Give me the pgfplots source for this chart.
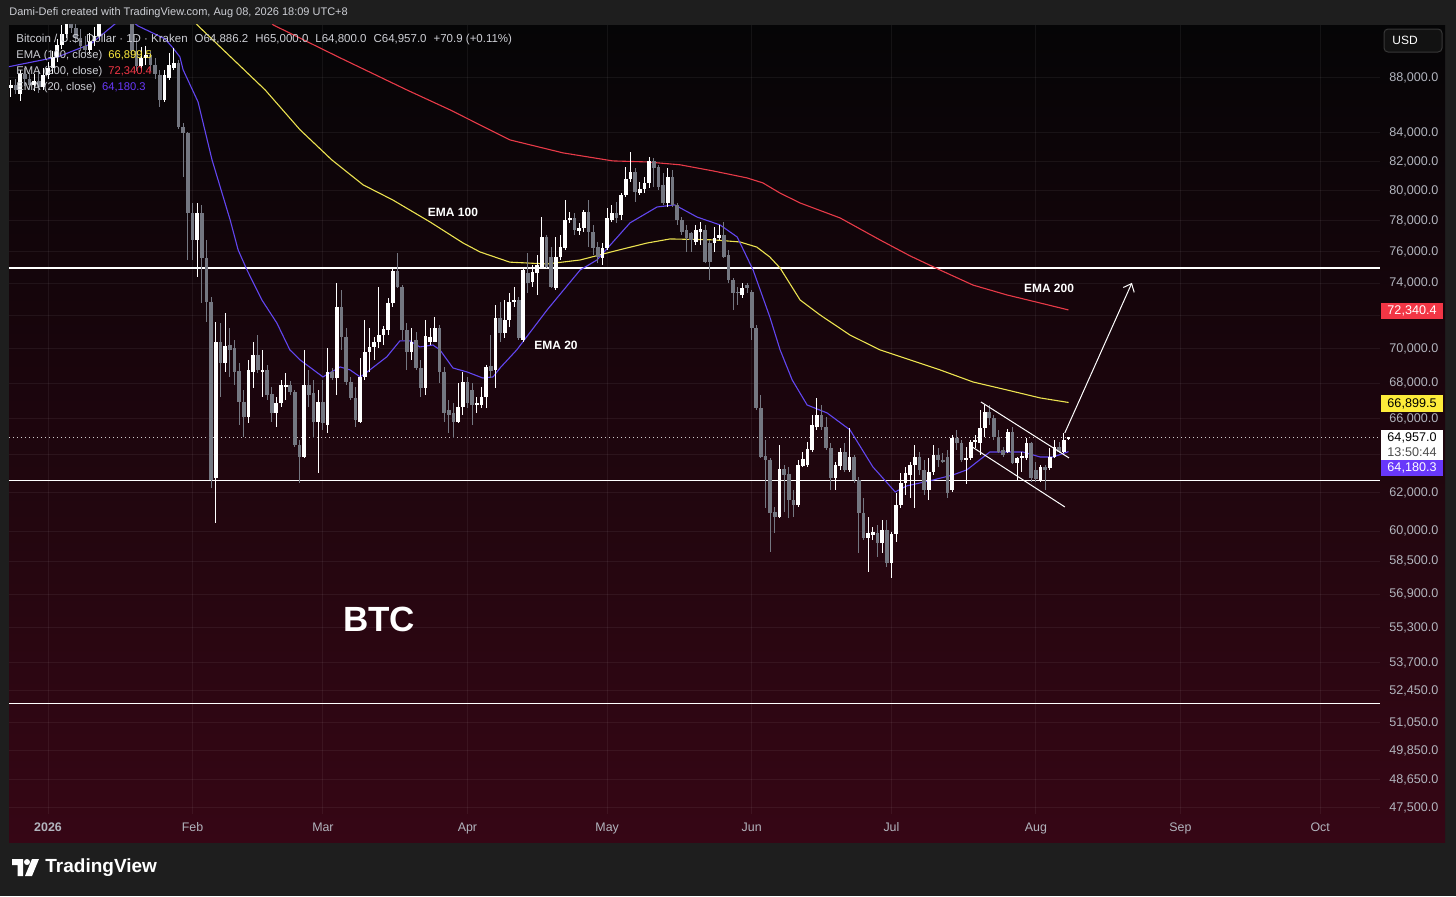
\documentclass[border=0pt]{standalone}
\usepackage{fontspec}
\setmainfont{Liberation Sans}
\usepackage{pgfplots}
\pgfplotsset{compat=1.18}
\usepackage{pgfplotstable}
\usetikzlibrary{arrows.meta}

\definecolor{frame}{RGB}{30,30,30}
\definecolor{bgtop}{RGB}{5,5,6}
\definecolor{bgmid}{RGB}{24,4,10}
\definecolor{bgbot}{RGB}{54,6,21}
\definecolor{upc}{RGB}{255,255,255}
\definecolor{dnc}{RGB}{116,119,129}
\definecolor{ema20}{RGB}{98,70,240}
\definecolor{ema100}{RGB}{236,226,80}
\definecolor{ema200}{RGB}{232,58,72}
\definecolor{box20}{RGB}{104,56,250}
\definecolor{box100}{RGB}{253,236,58}
\definecolor{box200}{RGB}{242,54,69}
\definecolor{lbl}{RGB}{205,207,213}
\definecolor{axlbl}{RGB}{178,181,190}

% daily candles: day index (0 = 1 Jan 2026), open, high, low, close
\pgfplotstableread{
d o h l c
-8 87260 87850 86600 87480
-6 86800 88600 86300 88300
-3 87500 88300 87000 87800
-1 87300 88700 87100 88200
0 88200 89200 87900 88700
1 88700 90000 88300 89600
2 89600 90900 89200 90500
3 90500 92000 90200 91300
4 91300 93000 91000 92300
9 90100 91400 89800 90800
10 90800 91900 90400 91200
11 91200 93300 91000 92800
12 92800 94800 92300 94200
13 94200 96200 93800 95500
15 95000 96700 94600 95800
20 88900 90300 88500 89500
21 89500 90400 89000 89700
25 86380 88600 86230 88220
26 88000 89900 87850 88970
27 88740 90260 88600 89120
32 76750 79180 74390 78520
36 62770 71610 60430 70410
38 69170 72160 68650 70170
43 66090 69350 65760 68770
44 68650 70410 67730 69640
46 68650 69940 67210 68770
49 66310 67210 65530 66880
50 66880 68190 66650 67900
51 67790 68590 67050 67900
55 63890 69940 63840 67900
58 65810 67610 63040 66930
60 65640 70060 65200 68650
62 68300 74010 67330 72520
67 65810 69470 65760 68360
68 68360 71730 68190 69820
69 69820 71250 68650 70110
70 70110 70710 69350 70410
71 70410 73760 70060 70830
72 70830 71370 70230 71190
73 71130 73080 70830 72770
74 72770 74950 72520 74760
78 69820 71250 69350 70410
81 67730 71730 67330 70770
82 70410 71250 70230 70710
83 70410 71910 70410 71250
88 65810 68020 65760 66650
89 66650 68650 66200 68070
92 66760 67210 66310 66880
93 66760 67790 66590 67210
94 67210 69060 66590 68940
96 68770 72650 67730 71850
98 70950 72950 70650 71730
99 71730 73390 71310 72830
100 72830 73760 72520 72950
102 70530 74950 70410 74830
104 74070 75140 73760 74700
105 74640 75780 73260 75140
106 75010 78250 74950 76940
109 73700 76940 73570 75650
110 75650 77070 75460 76290
111 76230 79380 76100 78050
112 78050 78580 77860 78190
114 77330 77860 77070 77530
115 77530 78720 77270 78580
119 75590 76550 75140 76230
120 76230 78850 76100 78190
121 78050 79050 77920 78520
123 78390 79850 78050 79720
124 79720 81630 79590 80800
125 80800 82670 80600 81280
127 79860 80600 79720 80120
128 80120 80940 79850 80530
129 80530 82320 80190 82040
133 79180 81560 78920 80940
139 76620 77730 76420 77400
140 77270 77920 76420 77460
143 76550 77590 75970 76880
144 76880 77730 76750 77070
149 73260 74010 73080 73700
157 60740 64550 60690 63250
161 61360 63730 61250 63460
162 63410 64160 63360 63790
163 63460 64710 63360 64330
164 64270 66200 64160 65650
165 65530 67160 65370 66200
169 62770 63630 62140 63460
170 63410 64380 63200 64160
172 63200 65480 63090 63890
176 59670 60740 57980 59920
177 59820 60230 59570 59970
179 59420 60580 58920 60070
181 58420 59970 57690 59870
182 59870 61980 59470 61360
183 61360 63040 61200 62510
184 62510 63360 61880 63040
185 62930 63630 61720 63460
186 63460 64550 61200 63890
189 62140 63840 61620 63090
190 63090 64550 62930 64000
194 62140 65090 62030 64930
197 63730 64440 62450 63840
198 63840 64820 63730 64710
199 64710 65090 64380 64820
200 64650 66480 64000 65480
201 65480 66760 64980 66370
206 64160 65420 64110 65260
208 63570 63890 62660 63840
209 63840 64160 63090 63950
210 63840 64930 63730 64650
213 62660 63460 62560 63360
215 63300 64380 63200 63890
216 63890 64820 63840 64440
218 64160 65200 64110 64820
219 64886.2 65000 64800 64957
}\upcandles

\pgfplotstableread{
d o h l c
-7 87480 87900 86800 87100
-5 88300 88700 87400 87900
-4 87900 88400 87100 87500
-2 87800 88500 86900 87300
5 92300 93200 91400 91800
6 91800 92600 90600 91000
7 91000 91700 90000 90400
8 90400 91200 89700 90100
14 95500 96500 94300 95000
16 95800 96300 94000 94800
17 94800 95300 92200 93000
18 93000 93500 89600 90000
19 90000 91000 88500 88900
22 89700 90000 88500 89000
23 89000 89500 87900 88300
24 88220 88600 85870 86380
28 89120 89350 84300 84430
29 84430 84720 80940 84000
30 84000 84100 75460 78520
31 78520 79180 75460 76750
33 78520 79050 72770 75590
34 75590 76750 71620 72830
35 72830 73150 62220 62660
37 70410 71550 67210 69170
39 70230 71250 68360 69940
40 70060 70530 67900 68650
41 68710 69170 65640 66930
42 66930 67610 64980 66090
45 69640 70830 68590 68770
47 68770 69060 67050 67330
48 67390 67790 65810 66310
52 67900 68130 67330 67500
53 67500 67610 64440 64550
54 64550 64820 62510 63890
56 67900 68770 66650 67330
57 67440 68190 64930 65810
59 66930 68190 65370 65760
61 68650 68880 68190 68300
63 72520 73570 69940 70710
64 70710 71250 67900 68070
65 68070 68360 67050 67160
66 67160 67790 65530 65920
75 74760 75910 73700 73760
76 73760 73880 70530 71130
77 71130 71550 68770 69820
79 70530 71010 68770 68880
80 68880 69350 67210 67730
84 71250 71430 68020 68650
85 68650 68940 65810 66310
86 66480 67050 65200 66200
87 66310 66880 64930 65810
90 68070 68360 66590 66880
91 67610 68020 65640 66760
95 69000 70830 68300 68700
97 71850 72830 70410 70950
101 72950 73140 70530 70650
103 74640 75910 73390 74010
107 76940 77070 74950 75010
108 75650 76290 73700 73760
113 78190 78520 77070 77400
116 78580 79380 76290 77270
117 77270 77730 75780 76230
118 76290 76620 75270 75650
122 78520 79250 77860 78190
126 81280 81560 79250 79920
130 82040 82250 80260 81560
131 81630 81770 80060 80260
132 80400 81210 79050 79180
134 80940 81420 78920 79050
135 79050 79180 77730 78050
136 78050 78250 77070 77270
137 77400 77730 75970 76880
138 77200 77270 75970 76750
141 77400 77730 75270 75330
142 76550 76750 74200 75330
145 77070 77920 75590 75650
146 75780 76100 74010 74200
147 74200 74320 72340 73390
148 73450 73760 72650 73390
150 73880 74010 73390 73700
151 73450 73570 70530 71250
152 71250 71430 66480 66590
153 66590 67330 63840 63890
154 63950 64820 61200 63730
155 63730 63840 58970 60940
156 60990 61250 59920 60740
158 63250 63460 60990 62930
159 62980 63360 60690 61610
160 61610 62140 60740 61360
166 66200 66760 65370 65530
167 65530 66090 64270 64380
168 64380 64650 62140 62770
171 64160 64650 63090 63200
173 63890 64000 62510 62660
174 62660 62820 58920 60940
175 60940 61720 59570 59670
178 59920 60330 58720 59420
180 60070 60580 58220 58420
187 63890 64160 62930 63200
188 63200 63730 61880 62140
191 64000 64380 63360 63730
192 63730 64110 63570 63630
193 63890 64270 61720 61980
195 64930 65370 64270 64650
196 64650 64820 63630 63730
202 66370 66760 65640 66030
203 66030 66200 64820 64980
204 64980 65370 64110 64160
205 64270 64440 63890 64000
207 65260 65530 63500 63570
211 64650 64710 62560 62770
212 63200 63630 62560 62720
214 63360 63460 62140 63200
217 64440 64710 64110 64160
}\dncandles

% draws the candles of a table through the axis coordinate system
\newcommand\drawcandles[2]{%
  \pgfplotstablegetrowsof{#1}%
  \pgfmathtruncatemacro{\nrows}{\pgfplotsretval-1}%
  \pgfplotsforeachungrouped \k in {0,...,\nrows}{%
    \pgfplotstablegetelem{\k}{d}\of{#1}\let\cd\pgfplotsretval
    \pgfplotstablegetelem{\k}{o}\of{#1}\let\co\pgfplotsretval
    \pgfplotstablegetelem{\k}{h}\of{#1}\let\ch\pgfplotsretval
    \pgfplotstablegetelem{\k}{l}\of{#1}\let\cl\pgfplotsretval
    \pgfplotstablegetelem{\k}{c}\of{#1}\let\cc\pgfplotsretval
    \edef\temp{\noexpand\draw[#2, line width=0.5pt] (axis cs:\cd,\cl) -- (axis cs:\cd,\ch);
      \noexpand\draw[#2, line width=1.85pt] (axis cs:\cd,\co) -- (axis cs:\cd,\cc);}%
    \temp
  }%
}

\begin{document}
\begin{tikzpicture}
\begin{scope}[x=0.5pt,y=-0.5pt]
% frame and panel
\fill[frame] (0,0) rectangle (1456,896);
\shade[top color=bgtop, middle color=bgmid, bottom color=bgbot] (9,25) rectangle (1445,842);
\end{scope}

\begin{axis}[
  at={(4.5pt,-407pt)}, anchor=south west,
  width=685.5pt, height=394.5pt, scale only axis,
  xmin=-8.37, xmax=285.84,
  ymode=log, ymin=47262, ymax=92030,
  axis line style={draw=none},
  major tick style={draw=none},
  minor tick style={draw=none},
  xtick={0,31,59,90,120,151,181,212,243,273},
  xticklabels={\textbf{2026},Feb,Mar,Apr,May,Jun,Jul,Aug,Sep,Oct},
  xticklabel style={font=\fontsize{6.2}{7}\selectfont, text=axlbl, anchor=base, inner sep=0pt, yshift=-9pt},
  ytick={88000,84000,82000,80000,78000,76000,74000,70000,68000,66000,62000,60000,58500,56900,55300,53700,52450,51050,49850,48650,47500},
  yticklabels={{88,000.0},{84,000.0},{82,000.0},{80,000.0},{78,000.0},{76,000.0},{74,000.0},{70,000.0},{68,000.0},{66,000.0},{62,000.0},{60,000.0},{58,500.0},{56,900.0},{55,300.0},{53,700.0},{52,450.0},{51,050.0},{49,850.0},{48,650.0},{47,500.0}},
  extra y ticks={72000,64000},
  extra y tick labels={},
  yticklabel pos=right,
  yticklabel style={font=\fontsize{6.3}{7}\selectfont, text=axlbl, anchor=west, inner sep=0pt, xshift=4.5pt},
  xmajorgrids, ymajorgrids,
  grid style={white, opacity=0.06, line width=0.5pt},
  /pgf/number format/assume math mode=true,
]
% support / resistance lines
\draw[white, line width=0.6pt] (axis cs:-8.37,74950) -- (axis cs:285.84,74950);
\draw[white, line width=0.6pt] (axis cs:-8.37,62630) -- (axis cs:285.84,62630);
\draw[white, line width=0.6pt] (axis cs:-8.37,51870) -- (axis cs:285.84,51870);
\draw[white, opacity=0.8, line width=0.5pt, dash pattern=on 0.6pt off 1.4pt] (axis cs:-8.37,64957) -- (axis cs:285.84,64957);

% EMA 200
\addplot[ema200, line width=0.55pt] coordinates {
(45.0,93800) (48.3,92030) (62.7,89500) (77.0,87110) (86.3,85650) (99.1,83510) (110.5,82600) (121.2,82040) (128.5,81970) (135.6,81770) (142.7,81350) (150.0,80870) (153.4,80530) (157.1,79850) (161.4,79180) (170.0,78190) (178.5,76750) (185.0,75720) (191.4,74830) (198.5,73880) (205.8,73260) (212.9,72770) (219.0,72340.4)};
% EMA 100
\addplot[ema100, line width=0.55pt] coordinates {
(29.0,93800) (32.0,92030) (46.6,87110) (54.1,84220) (60.9,82110) (67.6,80400) (74.0,79380) (82.0,77920) (89.1,76550) (92.7,75970) (99.1,75330) (107.1,75210) (114.2,75460) (121.2,76000) (128.5,76550) (133.5,76810) (142.7,76750) (148.5,76620) (152.1,76290) (154.9,75650) (157.1,74950) (161.4,72950) (165.7,72030) (172.1,70830) (178.5,69940) (185.0,69350) (191.4,68770) (198.5,68070) (205.8,67610) (212.9,67160) (219.0,66899.5)};
% EMA 20
\addplot[ema20, line width=0.55pt] coordinates {
(-8.6,88820) (2.1,89575) (9.2,90560) (14.4,92107) (17.0,92600) (19.3,91950) (25.1,90950) (26.8,90260) (28.3,89575) (29.0,88600) (32.2,86230) (35.2,82110) (39.1,78050) (40.8,76100) (42.7,74830) (45.9,72950) (49.1,71550) (51.9,69940) (54.1,69350) (59.0,68360) (62.7,68940) (64.8,68770) (67.0,68360) (68.5,68650) (72.7,69530) (75.5,70470) (77.7,70470) (79.8,70110) (82.6,70230) (84.1,69940) (86.9,68880) (89.9,68650) (93.3,68300) (95.5,68360) (97.0,68880) (100.6,69940) (107.1,72340) (114.2,74830) (117.8,75460) (124.9,77860) (130.7,78920) (134.5,79050) (139.3,78250) (144.2,77730) (147.9,76940) (151.3,74830) (154.9,71910) (157.1,69940) (159.7,68190) (162.9,66760) (167.2,66310) (172.1,65370) (177.0,63360) (181.8,62030) (184.3,62350) (189.9,62660) (194.2,62930) (197.2,63200) (202.1,64160) (209.2,64160) (212.9,63890) (215.7,63890) (219.0,64180.3)};

% candles
\drawcandles{\dncandles}{dnc}
\drawcandles{\upcandles}{upc}

% channel and projection arrow
\draw[white, line width=0.5pt] (axis cs:200.2,66930) -- (axis cs:219.1,63840);
\draw[white, line width=0.5pt] (axis cs:198.3,64440) -- (axis cs:218.2,61250);
\draw[white, line width=0.5pt, -{Straight Barb[length=3.5pt,width=6pt]}] (axis cs:218.2,65200) -- (axis cs:232.6,74010);
\end{axis}

\begin{scope}[x=0.5pt,y=-0.5pt]
% annotations
\node[text=white, font=\bfseries\fontsize{6}{7}\selectfont] at (453,212) {EMA 100};
\node[text=white, font=\bfseries\fontsize{6}{7}\selectfont] at (556,345) {EMA 20};
\node[text=white, font=\bfseries\fontsize{6}{7}\selectfont] at (1049,288) {EMA 200};
\node[text=white, font=\bfseries\fontsize{17.5}{20}\selectfont] at (379,619) {BTC};

% top bar
\node[anchor=west, inner sep=0pt, text=lbl, font=\fontsize{5.5}{7}\selectfont] at (9,13) {Dami-Defi created with TradingView.com, Aug 08, 2026 18:09 UTC+8};

% legend
\begin{scope}[every node/.style={anchor=west, inner sep=0pt, text=lbl, font=\fontsize{5.6}{7}\selectfont}]
\node[font=\fontsize{5.75}{7}\selectfont] at (16,40) {Bitcoin / U.S. Dollar · 1D · Kraken\hspace{3.5pt}O64,886.2\hspace{3.5pt}H65,000.0\hspace{3.5pt}L64,800.0\hspace{3.5pt}C64,957.0\hspace{3.5pt}+70.9 (+0.11\%)};
\node at (16,56) {EMA (100, close)\hspace{3pt}\textcolor{box100}{66,899.5}};
\node at (16,72) {EMA (200, close)\hspace{3pt}\textcolor{box200}{72,340.4}};
\node at (16,88) {EMA (20, close)\hspace{3pt}\textcolor{box20}{64,180.3}};
\end{scope}

% price labels
\fill[box200] (1381,303) rectangle (1443,319);
\node[text=white, font=\fontsize{6.3}{7}\selectfont] at (1412,311) {72,340.4};
\fill[box100] (1381,395) rectangle (1443,412);
\node[text=black, font=\fontsize{6.3}{7}\selectfont] at (1412,403.5) {66,899.5};
\fill[white] (1381,430) rectangle (1443,460);
\node[text=black, font=\fontsize{6.3}{7}\selectfont] at (1412,438) {64,957.0};
\node[text=black!70, font=\fontsize{6.3}{7}\selectfont] at (1412,452) {13:50:44};
\fill[box20] (1381,460) rectangle (1443,476);
\node[text=white, font=\fontsize{6.3}{7}\selectfont] at (1412,468) {64,180.3};

% USD button
\draw[fill={rgb,255:red,18;green,18;blue,18}, draw={rgb,255:red,55;green,55;blue,55}, line width=0.5pt, rounded corners=2pt] (1384,29) rectangle (1442,52);
\node[anchor=west, inner sep=0pt, text=white, font=\fontsize{6}{7}\selectfont] at (1392,40.5) {USD};

% TradingView logo
\fill[white] (12,859) -- (23,859) -- (23,876) -- (17.5,876) -- (17.5,865) -- (12,865) -- cycle;
\fill[white] (27,862) circle (3);
\fill[white] (32,859) -- (39,859) -- (32,876) -- (25,876) -- cycle;
\node[anchor=west, inner sep=0pt, text=white, font=\bfseries\fontsize{9.5}{11}\selectfont] at (45,867.5) {TradingView};
\end{scope}
\end{tikzpicture}
\end{document}
